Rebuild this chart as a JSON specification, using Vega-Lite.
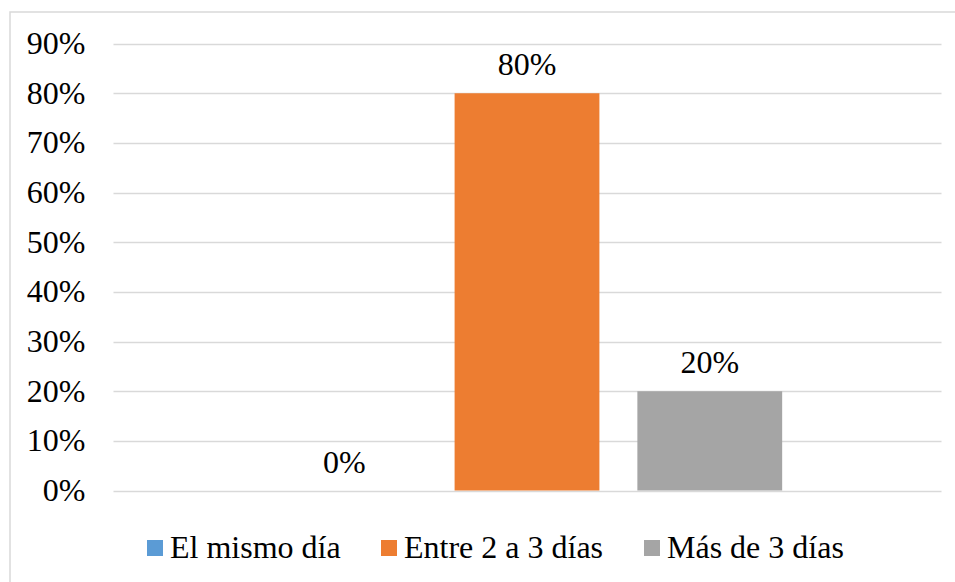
{
  "$schema": "https://vega.github.io/schema/vega-lite/v6.json",
  "autosize": "none",
  "width": 948,
  "height": 573,
  "padding": {"left": 10, "top": 12, "right": -3, "bottom": -3},
  "background": "white",
  "config": {
    "view": {"stroke": "#d9d9d9", "strokeWidth": 1.5}
  },
  "data": {
    "values": [
      {"serie": "El mismo día", "valor": 0.0},
      {"serie": "Entre 2 a 3 días", "valor": 0.8},
      {"serie": "Más de 3 días", "valor": 0.2}
    ]
  },
  "encoding": {
    "x": {
      "field": "serie",
      "type": "nominal",
      "sort": null,
      "scale": {
        "range": [103, 931],
        "paddingInner": 0.2077,
        "paddingOuter": 0.869
      },
      "axis": null
    },
    "y": {
      "field": "valor",
      "type": "quantitative",
      "scale": {"domain": [0, 0.9], "range": [478.5, 31.5], "nice": false},
      "axis": {
        "title": null,
        "values": [0, 0.1, 0.2, 0.3, 0.4, 0.5, 0.6, 0.7, 0.8, 0.9],
        "format": ".0%",
        "offset": -75,
        "domain": false,
        "ticks": false,
        "labelPadding": 0,
        "labelAlign": "right",
        "labelFont": "Liberation Serif",
        "labelFontSize": 32,
        "labelColor": "#000000",
        "grid": true,
        "gridColor": "#d9d9d9",
        "gridWidth": 1.5
      }
    }
  },
  "layer": [
    {
      "mark": {"type": "bar"},
      "encoding": {
        "color": {
          "field": "serie",
          "type": "nominal",
          "sort": null,
          "scale": {
            "domain": ["El mismo día", "Entre 2 a 3 días", "Más de 3 días"],
            "range": ["#5B9BD5", "#ED7D31", "#A5A5A5"]
          },
          "legend": {
            "title": null,
            "orient": "none",
            "direction": "horizontal",
            "legendX": 129,
            "legendY": 520,
            "symbolType": "square",
            "symbolSize": 256,
            "symbolStrokeWidth": 0,
            "symbolOpacity": 1,
            "labelFont": "Liberation Serif",
            "labelFontSize": 32,
            "labelColor": "#000000",
            "labelOffset": -1,
            "columnPadding": 32,
            "labelLimit": 400
          }
        }
      }
    },
    {
      "mark": {
        "type": "text",
        "baseline": "alphabetic",
        "dy": -18,
        "font": "Liberation Serif",
        "fontSize": 32,
        "color": "#000000"
      },
      "encoding": {
        "text": {"field": "valor", "type": "quantitative", "format": ".0%"}
      }
    }
  ]
}
